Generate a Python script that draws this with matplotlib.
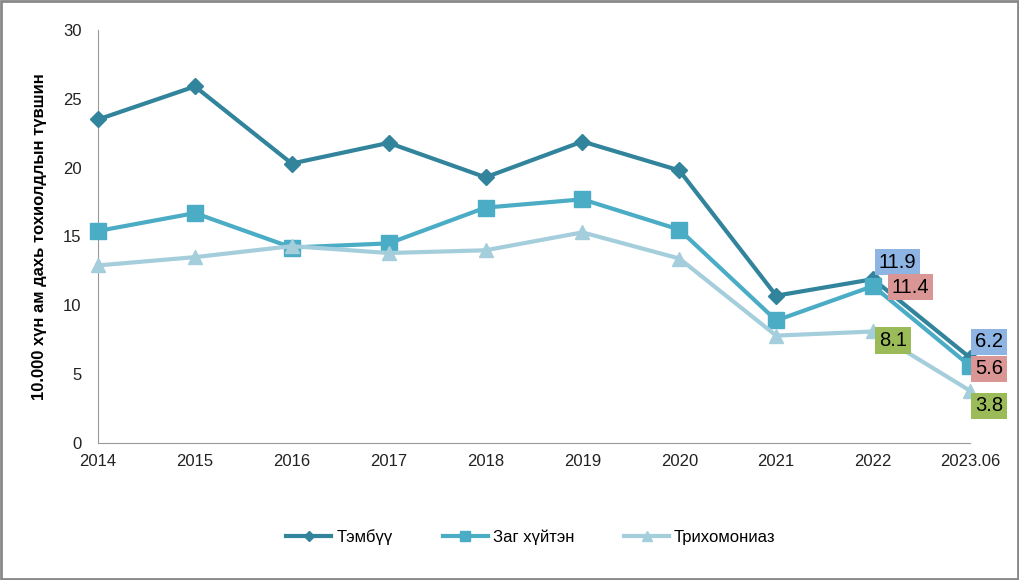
import matplotlib
matplotlib.use("Agg")
import matplotlib.pyplot as plt
from matplotlib.patches import Rectangle

plt.rcParams['font.family'] = ['Liberation Sans', 'DejaVu Sans']

years = ["2014", "2015", "2016", "2017", "2018", "2019", "2020", "2021", "2022", "2023.06"]
tembuu = [23.5, 25.9, 20.3, 21.8, 19.3, 21.9, 19.8, 10.7, 11.9, 6.2]
zag = [15.4, 16.7, 14.2, 14.5, 17.1, 17.7, 15.5, 8.9, 11.4, 5.6]
trich = [12.9, 13.5, 14.3, 13.8, 14.0, 15.3, 13.4, 7.8, 8.1, 3.8]

series = [
    ("Тэмбүү", tembuu, "#31849B", "D", 8, "#8EB4E3"),
    ("Заг хүйтэн", zag, "#4BACC6", "s", 11, "#D99694"),
    ("Трихомониаз", trich, "#A5CEDC", "^", 10, "#9BBB59"),
]
# label offsets (pixels) for 2022 and 2023.06
offsets = [[(24, 17), (19, 16)], [(37, -1), (19, -3)], [(20, -9), (19, -15)]]

fig = plt.figure(figsize=(10.19, 5.8), dpi=100)
ax = fig.add_axes([98 / 1019, 1 - 443 / 580, (970 - 98) / 1019, (443 - 30) / 580])
x = list(range(len(years)))

for (name, vals, col, mk, ms, boxc), offs in zip(series, offsets):
    ax.plot(x, vals, color=col, lw=3, marker=mk, markersize=ms, label=name,
            clip_on=False, zorder=3)
    for i, off in zip([8, 9], offs):
        ax.annotate(f"{vals[i]}", (x[i], vals[i]), xytext=off, textcoords="offset pixels",
                    ha="center", va="center", fontsize=14.5, zorder=5,
                    bbox=dict(boxstyle="square,pad=0.18", fc=boxc, ec="none"))

ax.set_xlim(0, len(years) - 1)
ax.set_ylim(0, 30)
ax.set_yticks(range(0, 31, 5))
ax.set_xticks(x)
ax.set_xticklabels(years)
ax.tick_params(axis="both", length=0, labelsize=12, colors="#222222")
ax.tick_params(axis="x", pad=8)
ax.tick_params(axis="y", pad=12)
for s in ["top", "right"]:
    ax.spines[s].set_visible(False)
for s in ["left", "bottom"]:
    ax.spines[s].set_color("#999999")
ax.set_ylabel("10.000 хүн ам дахь тохиолдлын түвшин", fontsize=12, fontweight="bold")
ax.yaxis.set_label_coords(-0.058, 0.5)

ax.legend(loc="center", bbox_to_anchor=(0.521, 1 - 537 / 580), bbox_transform=fig.transFigure,
          ncol=3, frameon=False, fontsize=12, columnspacing=3.0, handlelength=2.7,
          handletextpad=0.3, markerscale=0.7)

fig.patches.append(Rectangle((0.001, 0.001), 0.998, 0.997, transform=fig.transFigure,
                             fill=False, ec="#888888", lw=2))

fig.savefig("out.png", dpi=100)
